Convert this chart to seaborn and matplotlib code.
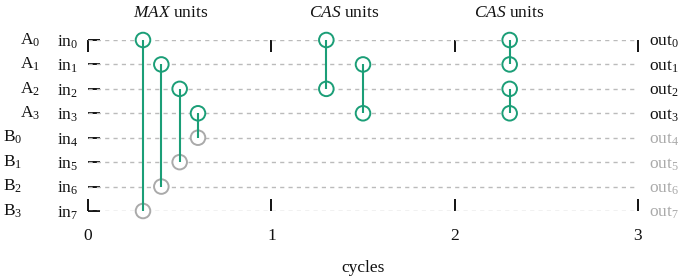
import matplotlib
matplotlib.use("Agg")
import matplotlib.pyplot as plt
import pandas as pd
import seaborn as sns

# wire labels
a_labels = ["A$_{0}$", "A$_{1}$", "A$_{2}$", "A$_{3}$"]
b_labels = ["B$_{0}$", "B$_{1}$", "B$_{2}$", "B$_{3}$"]
in_labels = [f"in$_{{{i}}}$" for i in range(8)]
out_labels = [f"out$_{{{i}}}$" for i in range(8)]
out_active = [True, True, True, True, False, False, False, False]

# comparator units: x position (cycles), top wire, bottom wire, kind
unit_x = [0.3, 0.4, 0.5, 0.6, 1.3, 1.5, 2.3, 2.3]
unit_top = [0, 1, 2, 3, 0, 1, 0, 2]
unit_bot = [7, 6, 5, 4, 2, 3, 1, 3]
unit_kind = ["MAX", "MAX", "MAX", "MAX", "CAS", "CAS", "CAS", "CAS"]

group_titles = ["$MAX$ units", "$CAS$ units", "$CAS$ units"]
group_x = [0.45, 1.4, 2.3]

x_ticks = [0, 1, 2, 3]

GREEN = "#1b9e77"
GREY = "#aaaaaa"
INK = "#111111"
FS = 12.5

sns.set_theme(style="white")
plt.rcParams["font.family"] = ["Liberation Serif", "DejaVu Serif"]
plt.rcParams["mathtext.fontset"] = "custom"
plt.rcParams["mathtext.rm"] = "Liberation Serif"
plt.rcParams["mathtext.it"] = "Liberation Serif:italic"
plt.rcParams["mathtext.bf"] = "Liberation Serif:bold"

fig = plt.figure(figsize=(6.78, 2.8), dpi=100)
ax = fig.add_axes([88 / 678, (280 - 211) / 280, 550 / 678, 171 / 280])

# wires
ax.hlines(range(8), 0, 3, colors="#bbbbbb", linestyles=(0, (3, 3)), linewidth=1, zorder=1)

pts = []
for x, t, b, k in zip(unit_x, unit_top, unit_bot, unit_kind):
    pts.append({"x": x, "y": t, "role": "green"})
    pts.append({"x": x, "y": b, "role": "green" if k == "CAS" else "grey"})
df = pd.DataFrame(pts)

sns.scatterplot(data=df, x="x", y="y", hue="role", palette={"green": GREEN, "grey": GREY},
                marker="o", s=110, linewidth=1.4, legend=False,
                ax=ax, zorder=3, clip_on=False)
for c in ax.collections[1:]:
    c.set_facecolor("white")
    c.set_edgecolors([GREEN if r == "green" else GREY for r in df["role"]])

ax.vlines(unit_x, unit_top, unit_bot, colors=GREEN, linewidth=1.5, zorder=4)

ax.set_xlim(0, 3)
ax.set_ylim(7, 0)
for s in ax.spines.values():
    s.set_visible(False)

ax.set_xticks(x_ticks)
ax.set_yticks(range(8))
ax.set_yticklabels(in_labels)
ax.tick_params(axis="both", direction="in", length=8.6, width=1.3, color="black",
               top=True, right=True, bottom=True, left=True, labelsize=FS, labelcolor=INK)
ax.tick_params(axis="x", pad=12)
ax.tick_params(axis="y", pad=7)

# right side labels
ax2 = ax.twinx()
ax2.set_ylim(7, 0)
ax2.set_yticks(range(8))
ax2.set_yticklabels(out_labels)
for s in ax2.spines.values():
    s.set_visible(False)
ax2.tick_params(axis="y", length=0, pad=8, labelsize=FS)
for lab, active in zip(ax2.get_yticklabels(), out_active):
    lab.set_color(INK if active else "#aaaaaa")

for i, lab in enumerate(a_labels + b_labels):
    y = fig.transFigure.inverted().transform(ax.transData.transform((0, i)))[1]
    x0 = 20 / 678 if i < 4 else 3 / 678
    fig.text(x0, y, lab, fontsize=FS, va="center", ha="left", color=INK)

for x, t in zip(group_x, group_titles):
    ax.text(x, -1.1, t, fontsize=FS, ha="center", va="center", color=INK)

ax.set_xlabel("cycles", fontsize=FS, labelpad=12, color=INK)
ax.set_ylabel("")

fig.savefig("out.png", dpi=100)
